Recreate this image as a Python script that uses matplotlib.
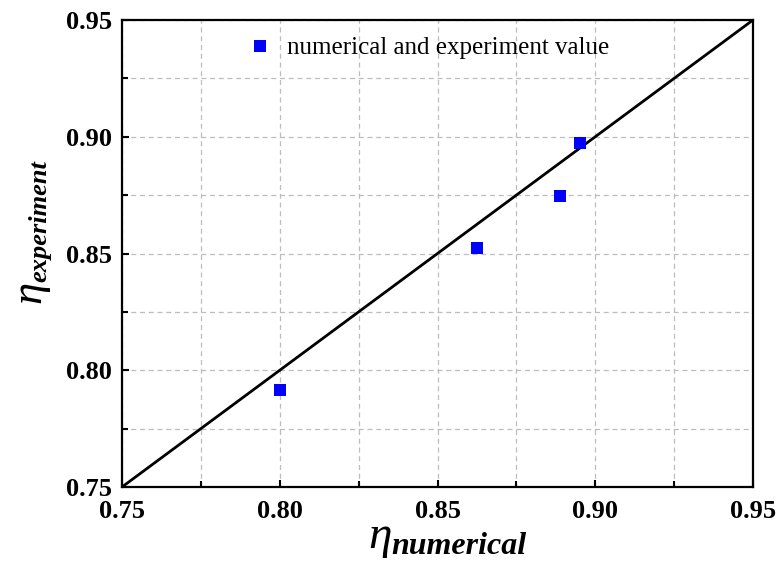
import numpy as np
import matplotlib as mpl
mpl.use('Agg')
import matplotlib.pyplot as plt
from matplotlib.ticker import MultipleLocator, FormatStrFormatter

# efficiency from the simulation vs. the test rig
eta_numerical = [0.800, 0.8625, 0.8888, 0.8952]
eta_experiment = [0.7915, 0.8524, 0.8746, 0.8973]
axis_range = [0.75, 0.95]

mpl.rcParams['font.family'] = 'Liberation Serif'

W, H = 779, 564
fig = plt.figure(figsize=(W / 100, H / 100), dpi=100)
ax = fig.add_axes([122 / W, 1 - 487 / H, 631 / W, 467 / H])

# y = x reference line
ax.plot(axis_range, axis_range, color='black', lw=2.0, zorder=2)
ax.plot(eta_numerical, eta_experiment, linestyle='none', marker='s',
        markersize=8.5, color='#0000ff', markeredgewidth=0,
        label='numerical and experiment value', zorder=3)

ax.set_xlim(axis_range)
ax.set_ylim(axis_range)
ax.xaxis.set_major_locator(MultipleLocator(0.05))
ax.yaxis.set_major_locator(MultipleLocator(0.05))
ax.xaxis.set_minor_locator(MultipleLocator(0.025))
ax.yaxis.set_minor_locator(MultipleLocator(0.025))
ax.xaxis.set_major_formatter(FormatStrFormatter('%.2f'))
ax.yaxis.set_major_formatter(FormatStrFormatter('%.2f'))

ax.grid(which='both', color='#bdbdbd', linestyle=(0, (4, 3)), linewidth=0.9, zorder=0)
ax.set_axisbelow(True)

ax.tick_params(which='both', direction='in', top=False, right=False,
               width=1.5, labelsize=19)
ax.tick_params(which='major', length=5)
ax.tick_params(which='minor', length=4)
ax.tick_params(axis='x', which='major', pad=9)
ax.tick_params(axis='y', which='major', pad=7)
for lab in ax.get_xticklabels() + ax.get_yticklabels():
    lab.set_fontweight('bold')
for sp in ax.spines.values():
    sp.set_linewidth(1.6)

# axis titles: greek eta plus a bold italic subscript
eta_x = fig.text(368 / W, 1 - 548 / H, 'η', fontsize=34, style='italic',
                 ha='left', va='baseline')
ax.annotate('numerical', xy=(1, 0), xycoords=eta_x, xytext=(0, -2),
            textcoords='offset points', fontsize=23, style='italic',
            fontweight='bold', ha='left', va='bottom')

eta_y = fig.text(49 / W, 1 - 303 / H, 'η', fontsize=32, style='italic',
                 rotation=90, ha='right', va='bottom')
ax.annotate('experiment', xy=(1, 1), xycoords=eta_y, xytext=(2, -1),
            textcoords='offset points', fontsize=19, style='italic',
            fontweight='bold', rotation=90, ha='right', va='bottom')

ax.legend(loc='center left', bbox_to_anchor=((247 - 122) / 631, (487 - 48) / 467),
          frameon=False, fontsize=18, borderpad=0, borderaxespad=0,
          handlelength=1.0, handletextpad=0.6, markerscale=1.0)

fig.savefig('out.png', dpi=100)
